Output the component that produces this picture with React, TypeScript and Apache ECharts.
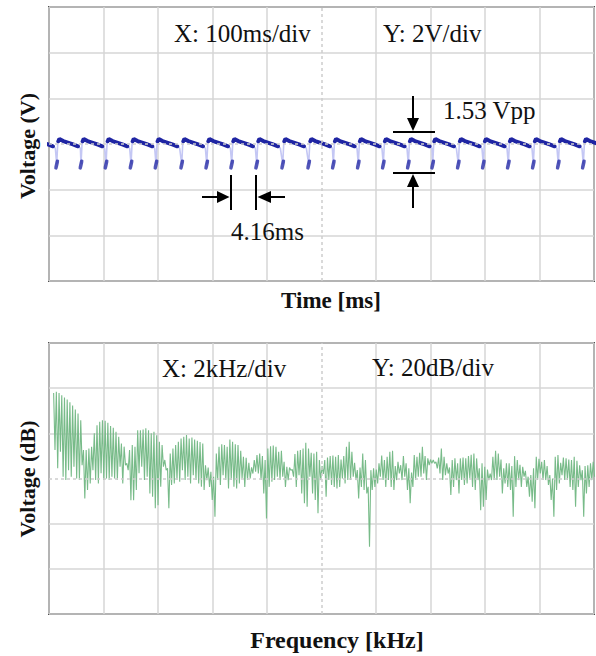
import React, { useEffect, useRef } from "react";
import * as echarts from "echarts";

// ---------- Top panel: oscilloscope time trace ----------
// Times (ms) of the sharp negative dips (100 ms/div)
const dipTimesMs = [
  -31.8, 14.1, 58.7, 104.6, 150.5, 196.3, 243.5, 289.4, 335.2, 381.1, 428.8,
  476.5, 521.7, 567.5, 613.4, 659.3, 704.0, 751.0, 796.9, 842.8, 888.6, 934.5, 980.4,
];
// Shape of one cycle after a dip (offset ms, volts) – faint full trace
const cycleOffsetMs = [0, 2.0, 4.5, 12, 30, 40, 43.5];
const cycleVolts = [-0.88, 0.05, 0.22, 0.12, -0.02, -0.1, -0.2];
// Bright (slow) part of each cycle
const dashOffsetMs = [3.0, 5.0, 12, 30, 39];
const dashVolts = [0.12, 0.22, 0.13, -0.02, -0.1];
const dipDotVolts = -0.9;

// ---------- Bottom panel: spectrum (20 dB/div, 2 kHz/div) ----------
const firstBinKHz = 0.17;
const binStepKHz = 0.0995;
const specTopDb = [
  97.9, 98.4, 97.9, 96.9, 95.9, 95.0, 93.8, 92.3, 90.6, 88.8,
  85.8, 72.6, 72.6, 73.3, 74.1, 80.0, 83.6, 85.1, 85.8, 85.6,
  84.7, 83.2, 82.5, 80.7, 78.5, 75.5, 74.1, 66.7, 72.6, 74.8,
  74.1, 81.4, 81.4, 81.7, 82.2, 81.4, 80.0, 80.7, 79.2, 76.3,
  74.8, 68.2, 64.5, 71.1, 73.3, 74.8, 76.3, 77.7, 78.5, 79.2,
  77.7, 78.2, 77.3, 76.7, 76.1, 75.5, 65.9, 64.9, 63.0, 60.8,
  71.1, 74.1, 75.2, 74.8, 74.1, 77.3, 76.3, 75.2, 74.8, 72.3,
  69.6, 69.2, 67.0, 64.9, 68.2, 70.4, 71.1, 69.9, 68.2, 73.3,
  74.3, 74.6, 74.1, 71.8, 72.3, 67.4, 65.2, 64.9, 64.0, 70.8,
  72.3, 72.6, 73.3, 75.8, 73.3, 71.4, 71.1, 71.8, 68.2, 65.5,
  68.2, 69.3, 69.9, 70.2, 69.6, 70.4, 68.4, 69.9, 74.1, 76.3,
  71.8, 67.0, 63.7, 64.9, 71.1, 68.2, 56.3, 63.7, 64.5, 64.0,
  66.7, 70.2, 68.2, 69.6, 71.8, 72.3, 65.5, 67.4, 65.9, 69.9,
  66.7, 64.5, 62.6, 70.4, 69.6, 71.4, 74.1, 69.9, 68.9, 68.4,
  68.2, 67.4, 69.3, 73.3, 69.6, 66.7, 64.9, 68.2, 68.9, 66.7,
  68.9, 69.3, 69.0, 69.9, 70.5, 71.1, 68.9, 64.5, 66.7, 65.2,
  64.0, 62.2, 69.6, 72.3, 71.1, 68.4, 64.5, 66.7, 66.7, 65.5,
  69.9, 68.2, 66.1, 65.2, 63.4, 60.8, 61.5, 64.5, 69.6, 68.7,
  67.4, 68.2, 65.5, 61.5, 60.0, 69.6, 70.4, 67.0, 69.3, 68.9,
  68.4, 68.2, 69.6, 67.9, 65.9, 63.7, 65.5, 65.9, 66.7, 67.4,
];
const specBottomDb = [
  72.6, 64.5, 71.8, 60.8, 59.3, 63.7, 60.8, 65.2, 60.0, 59.3,
  65.9, 51.2, 54.9, 57.8, 63.7, 59.3, 57.8, 62.3, 59.3, 60.0,
  59.3, 60.8, 60.0, 59.3, 65.2, 57.8, 65.9, 63.7, 50.4, 50.4,
  54.9, 62.3, 65.2, 59.3, 60.8, 53.4, 51.9, 46.8, 48.2, 56.3,
  65.2, 63.7, 46.8, 57.1, 57.8, 59.3, 58.6, 63.7, 59.3, 60.8,
  57.8, 61.5, 59.3, 57.8, 56.3, 54.9, 59.3, 56.3, 50.5, 43.1,
  59.3, 57.1, 61.5, 59.3, 55.6, 59.3, 56.3, 55.6, 57.8, 60.0,
  56.3, 59.3, 60.0, 62.2, 63.0, 62.2, 59.3, 53.4, 42.3, 56.3,
  58.6, 59.3, 60.8, 59.3, 60.8, 56.3, 59.3, 63.7, 60.8, 56.3,
  61.5, 53.4, 49.0, 47.5, 60.8, 53.4, 50.5, 44.6, 59.3, 62.0,
  51.9, 59.3, 57.1, 56.3, 55.6, 56.3, 60.0, 57.8, 59.3, 59.3,
  60.8, 59.3, 51.2, 56.3, 54.9, 53.4, 29.8, 54.9, 56.3, 57.8,
  60.8, 59.3, 56.3, 59.3, 56.3, 54.9, 59.3, 62.2, 59.3, 60.8,
  54.9, 49.0, 56.3, 59.3, 60.8, 60.8, 62.2, 59.3, 65.9, 66.7,
  66.7, 64.5, 62.2, 59.3, 61.5, 62.2, 52.7, 56.3, 59.3, 53.4,
  59.3, 57.1, 57.8, 60.0, 56.3, 54.9, 59.3, 46.0, 47.5, 50.5,
  59.3, 59.3, 59.3, 59.3, 60.8, 53.4, 57.8, 56.3, 54.9, 43.1,
  56.3, 59.3, 56.3, 60.8, 56.3, 51.9, 49.7, 46.8, 59.3, 62.2,
  59.3, 59.3, 57.1, 50.5, 43.1, 54.9, 57.8, 61.5, 59.3, 59.3,
  56.3, 54.9, 47.5, 56.3, 59.3, 43.1, 53.4, 56.3, 59.3, 60.8,
];

const SERIF = "'Liberation Serif', 'Times New Roman', serif";
const GRID_C = "#d6d6d6";

function splitColors(n: number, hole: number) {
  const arr: string[] = [];
  for (let i = 0; i < n; i++) arr.push(i === hole ? "rgba(0,0,0,0)" : GRID_C);
  return arr;
}

function txt(text: string, x: number, y: number, size: number, bold = false, align = "left", rotation = 0) {
  return {
    type: "text",
    x,
    y,
    rotation,
    silent: true,
    z: 100,
    style: {
      text,
      x: 0,
      y: 0,
      fill: "#111",
      font: `${bold ? "bold " : ""}${size}px ${SERIF}`,
      fontSize: size,
      fontWeight: bold ? "bold" : "normal",
      fontFamily: SERIF,
      textAlign: align,
      align,
      textVerticalAlign: "middle",
      verticalAlign: "middle",
    },
  };
}
function seg(x1: number, y1: number, x2: number, y2: number) {
  return {
    type: "line",
    silent: true,
    z: 100,
    shape: { x1, y1, x2, y2 },
    style: { stroke: "#000", lineWidth: 2 },
  };
}
function tri(points: number[][]) {
  return { type: "polygon", silent: true, z: 100, shape: { points }, style: { fill: "#000" } };
}

export default function App() {
  const ref = useRef<HTMLDivElement>(null);
  useEffect(() => {
    const chart = echarts.init(ref.current!, null, { renderer: "svg" });

    const lightWave: any[] = [];
    const darkWave: any[] = [];
    const dots: any[] = [];
    dipTimesMs.forEach((d) => {
      cycleOffsetMs.forEach((o, j) => lightWave.push([d + o, cycleVolts[j]]));
      dashOffsetMs.forEach((o, j) => darkWave.push([d + o, dashVolts[j]]));
      darkWave.push([d + dashOffsetMs[dashOffsetMs.length - 1] + 0.5, null]);
      dots.push([d, dipDotVolts]);
    });

    const spec: number[][] = [];
    specTopDb.forEach((t, i) => {
      const f = firstBinKHz + i * binStepKHz;
      spec.push([f, t]);
      spec.push([f + binStepKHz / 2, specBottomDb[i]]);
    });

    const hidden = { show: false };
    const option: any = {
      animation: false,
      backgroundColor: "#fff",
      grid: [
        { left: 49, top: 7, width: 545, height: 274, show: true, borderColor: "#505050", borderWidth: 2, backgroundColor: "#fff" },
        { left: 49, top: 343, width: 545, height: 271, show: true, borderColor: "#505050", borderWidth: 2, backgroundColor: "#fff" },
      ],
      xAxis: [
        {
          type: "value", gridIndex: 0, min: 0, max: 1000, interval: 100,
          axisLine: hidden, axisTick: hidden, axisLabel: hidden,
          splitLine: { show: true, lineStyle: { color: splitColors(11, 5), width: 1.5 } },
        },
        {
          type: "value", gridIndex: 1, min: 0, max: 20, interval: 2,
          axisLine: hidden, axisTick: hidden, axisLabel: hidden,
          splitLine: { show: true, lineStyle: { color: splitColors(11, 5), width: 1.5 } },
        },
      ],
      yAxis: [
        {
          type: "value", gridIndex: 0, min: -6, max: 6, interval: 2,
          axisLine: hidden, axisTick: hidden, axisLabel: hidden,
          splitLine: { show: true, lineStyle: { color: splitColors(7, 3), width: 1.5 } },
        },
        {
          type: "value", gridIndex: 1, min: 0, max: 120, interval: 20,
          axisLine: hidden, axisTick: hidden, axisLabel: hidden,
          splitLine: { show: true, lineStyle: { color: splitColors(7, 3), width: 1.5 } },
        },
      ],
      series: [
        {
          type: "line", xAxisIndex: 0, yAxisIndex: 0, data: [], z: 1, silent: true,
          markLine: {
            silent: true, symbol: "none", label: { show: false },
            lineStyle: { color: "#cdcdcd", width: 1.5, type: [3, 3] },
            data: [{ xAxis: 500 }, { yAxis: 0 }],
          },
        },
        {
          type: "line", xAxisIndex: 1, yAxisIndex: 1, data: [], z: 1, silent: true,
          markLine: {
            silent: true, symbol: "none", label: { show: false },
            lineStyle: { color: "#cdcdcd", width: 1.5, type: [3, 3] },
            data: [{ xAxis: 10 }, { yAxis: 60 }],
          },
        },
        {
          type: "line", xAxisIndex: 0, yAxisIndex: 0, data: lightWave, showSymbol: false, z: 3,
          lineStyle: { color: "#c4c7f4", width: 1.6 },
        },
        {
          type: "line", xAxisIndex: 0, yAxisIndex: 0, data: darkWave, showSymbol: false, z: 4,
          connectNulls: false,
          lineStyle: { color: "#1f25a3", width: 4, cap: "round" },
        },
        {
          type: "scatter", xAxisIndex: 0, yAxisIndex: 0, data: dots, z: 5,
          symbol: "roundRect", symbolSize: [3.6, 10], symbolRotate: -12,
          itemStyle: { color: "#262ba6" },
        },
        {
          type: "line", xAxisIndex: 1, yAxisIndex: 1, data: spec, showSymbol: false, z: 3,
          lineStyle: { color: "#78bb89", width: 1.1 },
        },
      ],
      graphic: [
        txt("X: 100ms/div", 174, 33, 25),
        txt("Y: 2V/div", 383, 33, 25),
        txt("1.53 Vpp", 443, 110, 25),
        txt("4.16ms", 231, 231, 25),
        txt("X: 2kHz/div", 162, 368, 25),
        txt("Y: 20dB/div", 372, 367, 25),
        txt("Voltage (V)", 27, 146, 22, true, "center", Math.PI / 2),
        txt("Time [ms]", 331, 300, 23, true, "center"),
        txt("Voltage (dB)", 27, 479, 22, true, "center", Math.PI / 2),
        txt("Frequency [kHz]", 337, 640, 24, true, "center"),
        // Vpp markers
        seg(393, 132, 435, 132),
        seg(393, 173, 435, 173),
        seg(413, 96, 413, 120),
        tri([[407, 118], [419, 118], [413, 131]]),
        seg(413, 185, 413, 208),
        tri([[407, 187], [419, 187], [413, 174]]),
        // period markers
        seg(231, 175, 231, 210),
        seg(256, 175, 256, 210),
        seg(202, 197, 218, 197),
        tri([[217, 191], [217, 203], [229.5, 197]]),
        seg(270, 197, 285, 197),
        tri([[271, 191], [271, 203], [257.5, 197]]),
      ],
    };
    chart.setOption(option);
    return () => chart.dispose();
  }, []);
  return (
    <div
      ref={ref}
      style={{ position: "absolute", left: 0, top: 0, width: 596, height: 656, background: "#fff" }}
    />
  );
}
